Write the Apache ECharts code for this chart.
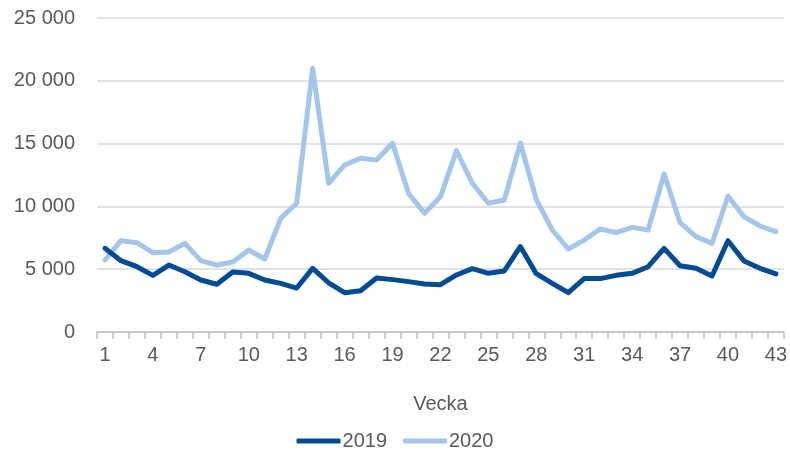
<!DOCTYPE html>
<html>
<head>
<meta charset="utf-8">
<script src="https://cdn.jsdelivr.net/npm/echarts@6/dist/echarts.min.js"></script>
<style>
    html, body { margin: 0; padding: 0; background: #fff; }
    #chartVecka { width: 790px; height: 450px; }
</style>
</head>
<body>
<div id="chartVecka"></div>
<script>
    // veckor 1..43
    const weeks = [];
    for (let i = 1; i <= 43; i++) weeks.push(String(i));

    const values2019 = [
        6660, 5680, 5200, 4510, 5330, 4800, 4140, 3800, 4780, 4670,
        4140, 3870, 3500, 5070, 3920, 3130, 3290, 4300, 4170, 4010,
        3820, 3770, 4540, 5040, 4670, 4860, 6800, 4640, 3870, 3130,
        4250, 4250, 4510, 4670, 5200, 6660, 5280, 5070, 4460, 7270,
        5650, 5070, 4620
    ];
    const values2020 = [
        5730, 7270, 7110, 6310, 6370, 7060, 5680, 5330, 5570, 6530,
        5810, 9050, 10250, 21000, 11840, 13300, 13830, 13690, 15020, 11040,
        9450, 10770, 14440, 11840, 10250, 10510, 15050, 10550, 8120, 6610,
        7320, 8200, 7910, 8330, 8120, 12580, 8700, 7590, 7060, 10830,
        9180, 8440, 7990
    ];

    const textColor = '#595959';
    const font = 'Liberation Sans';
    const dark = '#004b93';
    const light = '#a4c6ea';

    const option = {
        animation: false,
        grid: {
            top: 18,
            left: 97,
            right: 3,
            bottom: 118
        },
        legend: {
            top: 426,
            left: 'center',
            icon: 'roundRect',
            itemWidth: 44,
            itemHeight: 5,
            itemGap: 16,
            textStyle: { color: textColor, fontSize: 20, fontFamily: font, padding: [0, 0, 0, -3] },
            data: ['2019', '2020']
        },
        xAxis: {
            type: 'category',
            data: weeks,
            boundaryGap: true,
            name: 'Vecka',
            nameLocation: 'middle',
            nameGap: 62,
            nameTextStyle: { color: textColor, fontSize: 20, fontFamily: font },
            axisLine: { show: true, lineStyle: { color: '#bfbfbf', width: 1.5 } },
            axisTick: { show: true, interval: 0, inside: false, length: 7, lineStyle: { color: '#bfbfbf', width: 1.5 } },
            axisLabel: {
                interval: 2,
                margin: 13,
                color: textColor,
                fontSize: 20,
                fontFamily: font
            },
            z: 5
        },
        yAxis: {
            type: 'value',
            min: 0,
            max: 25000,
            interval: 5000,
            axisLine: { show: false },
            axisTick: { show: false },
            splitLine: { lineStyle: { color: '#d9d9d9', width: 1.5 } },
            axisLabel: {
                margin: 22,
                color: textColor,
                fontSize: 20,
                fontFamily: font,
                formatter: v => String(v).replace(/\B(?=(\d{3})+(?!\d))/g, ' ')
            }
        },
        series: [
            {
                name: '2019',
                type: 'line',
                symbol: 'none',
                data: values2019,
                lineStyle: { color: dark, width: 5, cap: 'round', join: 'round' },
                itemStyle: { color: dark },
                z: 3
            },
            {
                name: '2020',
                type: 'line',
                symbol: 'none',
                data: values2020,
                lineStyle: { color: light, width: 5, cap: 'round', join: 'round' },
                itemStyle: { color: light },
                z: 2
            }
        ]
    };

    const myChart = echarts.init(document.getElementById('chartVecka'));
    myChart.setOption(option);
</script>
</body>
</html>
